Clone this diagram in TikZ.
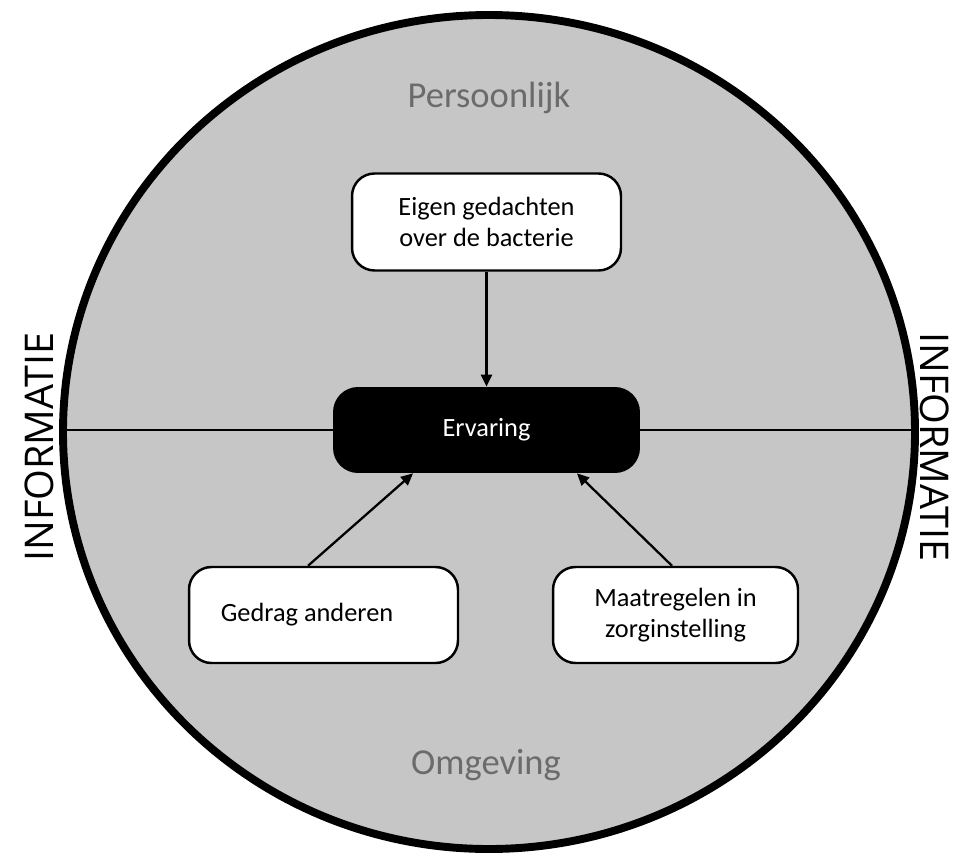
\documentclass[tikz,border=0pt]{standalone}
\usepackage{fontspec}
\setmainfont{Carlito}
\newfontfamily\infofont{Open Sans}
\usetikzlibrary{arrows.meta}
\definecolor{cirkelgrijs}{HTML}{C6C6C6}
\definecolor{tekstgrijs}{HTML}{6B6B6B}

\begin{document}
\begin{tikzpicture}[x=0.02cm,y=-0.02cm,
  blok/.style={draw=black,line width=1.4pt,fill=white,rounded corners=0.45cm,
    align=center,font=\fontsize{15}{18}\selectfont},
  kop/.style={text=tekstgrijs,font=\fontsize{20.8}{25}\selectfont},
  info/.style={font=\infofont\fontsize{22.5}{27}\selectfont},
  pijl/.style={line width=1.3pt,-{Triangle[length=0.24cm,width=0.22cm]}}]
\useasboundingbox (0,0) rectangle (955,861);

\draw[line width=4.5pt,fill=cirkelgrijs] (489,432) ellipse (426 and 417);
\coordinate (links) at (63,430);
\coordinate (rechts) at (915,430);

\node[kop] (persoonlijk) at (489,98) {Persoonlijk};
\node[kop] (omgeving) at (486,765) {Omgeving};

\node[info,rotate=90] (infolinks) at (39,447) {INFORMATIE};
\node[info,rotate=-90] (inforechts) at (935,447) {INFORMATIE};

\node[fill=black,text=white,rounded corners=0.5cm,minimum width=6.14cm,
  minimum height=1.72cm,font=\fontsize{15}{18}\selectfont] (ervaring) at (486.5,430) {Ervaring};
\draw[line width=1.3pt] (links) -- (ervaring);
\draw[line width=1.3pt] (ervaring) -- (rechts);

\node[blok,minimum width=5.38cm,minimum height=1.94cm] (eigen) at (486.5,222) {Eigen gedachten\\over de bacterie};
\node[blok,minimum width=5.38cm,minimum height=1.92cm] (gedrag) at (323.5,615) {Gedrag anderen\hspace*{0.66cm}};
\node[blok,minimum width=4.9cm,minimum height=1.92cm] (maatregelen) at (675.5,615) {Maatregelen in\\zorginstelling};

\draw[pijl] (eigen) -- (ervaring);
\draw[pijl] ([xshift=-0.31cm]gedrag.north) -- ([xshift=-1.47cm]ervaring.south);
\draw[pijl] ([xshift=-0.07cm]maatregelen.north) -- ([xshift=1.81cm]ervaring.south);
\end{tikzpicture}
\end{document}
